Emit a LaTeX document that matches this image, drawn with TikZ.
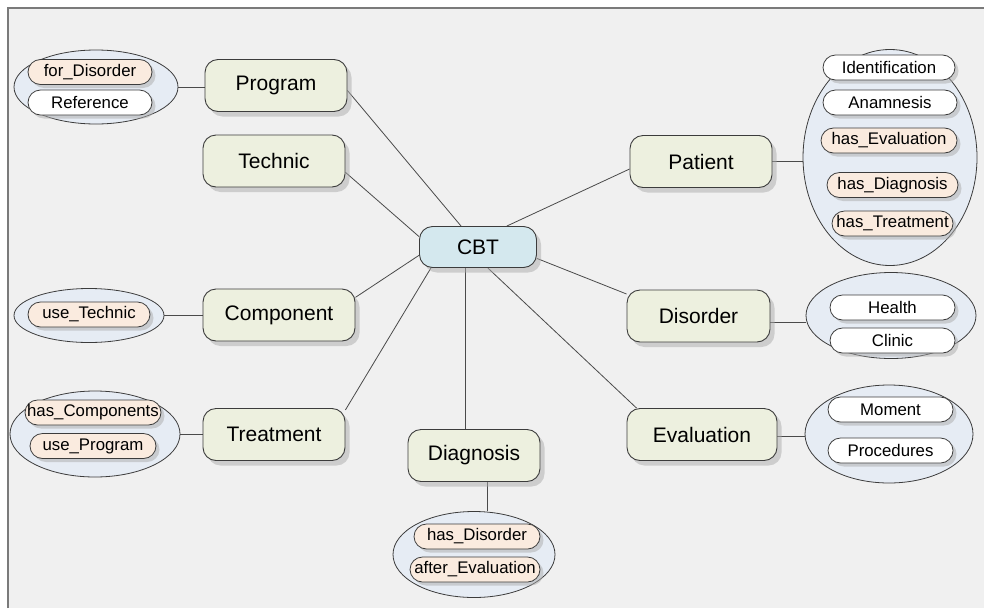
\documentclass[tikz,border=0pt]{standalone}
\usepackage{fontspec}
\setmainfont{Liberation Sans}
\usetikzlibrary{shapes.geometric,shadows,backgrounds}

\definecolor{pagebg}{HTML}{F0F0F0}
\definecolor{framegray}{HTML}{7A7A7A}
\definecolor{edgegray}{HTML}{3C3C3C}
\definecolor{linkgray}{HTML}{4A4A4A}
\definecolor{topicfill}{HTML}{EDF0DF}
\definecolor{rootfill}{HTML}{D4E8EE}
\definecolor{groupfill}{HTML}{E6ECF4}
\definecolor{peach}{HTML}{FAEBDF}
\definecolor{shade}{HTML}{ABABAB}

\tikzset{
  topic/.style={draw=edgegray, line width=0.9pt, fill=topicfill,
    rounded corners=13pt, minimum width=142pt, minimum height=52pt,
    inner sep=0pt, font=\fontsize{21}{24}\selectfont,
    drop shadow={shadow xshift=4.5pt, shadow yshift=-5pt, fill=shade}},
  root/.style={topic, fill=rootfill, minimum width=117pt, minimum height=41pt},
  group/.style={ellipse, draw=edgegray, line width=0.8pt, fill=groupfill, inner sep=0pt},
  pill/.style={draw=edgegray, line width=0.8pt, fill=white,
    rounded corners=12.5pt, minimum width=125pt, minimum height=25pt,
    inner sep=1pt, font=\fontsize{16.8}{19}\selectfont,
    drop shadow={shadow xshift=3.5pt, shadow yshift=-3.5pt, fill=shade}},
  relpill/.style={pill, fill=peach},
  link/.style={draw=linkgray, line width=0.8pt}
}

\begin{document}
\begin{tikzpicture}[x=1pt, y=-1pt]
\useasboundingbox (0,0) rectangle (984,608);

% central concept and its branches
\node[root]  (cbt)  at (478,247) {CBT};
\node[topic] (prog) at (276,85.5) {Program};
\node[topic] (tech) at (274,161) {Technic};
\node[topic, minimum width=152pt] (comp) at (279,315) {Component};
\node[topic] (treat) at (274,434.5) {Treatment};
\node[topic, minimum width=132pt] (diag) at (474,455.5) {Diagnosis};
\node[topic, minimum width=150pt] (eval) at (702,434.5) {Evaluation};
\node[topic, minimum width=143pt] (dis)  at (698.5,316) {Disorder};
\node[topic] (pat)  at (701,161.5) {Patient};

% attribute groups
\node[group, minimum width=164pt, minimum height=74pt]  (gprog)  at (96,87) {};
\node[group, minimum width=150pt, minimum height=54pt]  (gcomp)  at (89,315.5) {};
\node[group, minimum width=170pt, minimum height=86pt]  (gtreat) at (95,434) {};
\node[group, minimum width=162pt, minimum height=86pt]  (gdiag)  at (474,554.5) {};
\node[group, minimum width=174pt, minimum height=216pt] (gpat)   at (890,157.5) {};
\node[group, minimum width=170pt, minimum height=86pt]  (gdis)   at (891,315.5) {};
\node[group, minimum width=168pt, minimum height=98pt]  (geval)  at (889,434) {};

% attributes and relations
\node[relpill, minimum width=124pt] (p1) at (90,72) {for\_Disorder};
\node[pill, minimum width=124pt]    (p2) at (90,102.5) {Reference};
\node[relpill, minimum width=122pt] (c1) at (89,314.5) {use\_Technic};
\node[relpill, minimum width=136pt] (t1) at (93,412.5) {has\_Components};
\node[relpill, minimum width=126pt] (t2) at (93,446) {use\_Program};
\node[relpill, minimum width=126pt] (d1) at (477,536.5) {has\_Disorder};
\node[relpill, minimum width=130pt] (d2) at (475,569.5) {after\_Evaluation};
\node[pill, minimum width=132pt]    (a1) at (889,67.5) {Identification};
\node[pill, minimum width=134pt]    (a2) at (890,102.5) {Anamnesis};
\node[relpill, minimum width=136pt] (a3) at (889,140.5) {has\_Evaluation};
\node[relpill, minimum width=131pt] (a4) at (892.5,185) {has\_Diagnosis};
\node[relpill, minimum width=121pt] (a5) at (892.5,223.5) {has\_Treatment};
\node[pill]                         (h1) at (892.5,307.5) {Health};
\node[pill]                         (h2) at (892.5,340.5) {Clinic};
\node[pill]                         (e1) at (890.5,409.5) {Moment};
\node[pill]                         (e2) at (890.5,450.5) {Procedures};

\begin{pgfonlayer}{background}
  % page and frame
  \fill[white] (0,0) rectangle (984,608);
  \fill[pagebg] (8,8) rectangle (984,608);
  \draw[framegray, line width=1.6pt] (8,608) -- (8,8) -- (984,8);

  % spokes from the centre
  \path[link] (cbt.129) -- (prog.-4);
  \path[link] (cbt.170) -- (tech.-9);
  \path[link] (cbt.188) -- (comp.13);
  \path[link] (cbt.204) -- (treat.19);
  \path[link] ([xshift=-13pt]cbt.south) -- ([xshift=-9pt]diag.north);
  \path[link] (cbt.295) -- (eval.158);
  \path[link] (cbt.349) -- (dis.163);
  \path[link] (cbt.36)  -- (pat.186);

  % topic to group
  \path[link] (gprog.east)  -- (prog.west |- gprog.east);
  \path[link] (gcomp.east)  -- (comp.west |- gcomp.east);
  \path[link] (gtreat.east) -- (treat.west |- gtreat.east);
  \path[link] ([xshift=13pt]diag.south) -- ([xshift=13pt]diag.south |- gdiag.north);
  \path[link] (pat.east) -- (pat.east -| gpat.west);
  \path[link] ([yshift=-6pt]dis.east) -- ([yshift=-6pt]dis.east -| gdis.west);
  \path[link] ([yshift=-2pt]eval.east) -- ([yshift=-2pt]eval.east -| geval.west);
\end{pgfonlayer}
\end{tikzpicture}
\end{document}
